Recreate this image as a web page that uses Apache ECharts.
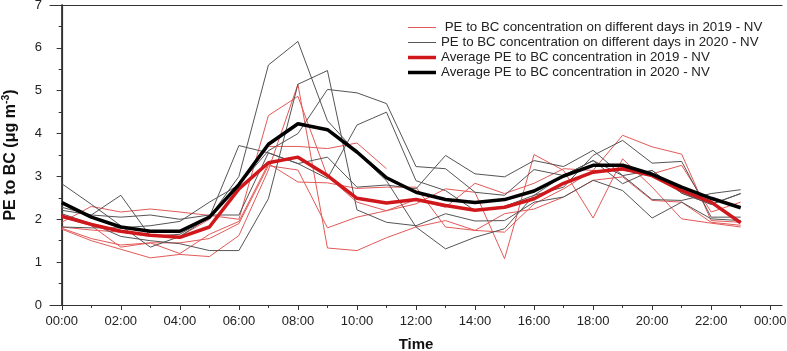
<!DOCTYPE html>
<html>
<head>
<meta charset="utf-8">
<script src="https://cdn.jsdelivr.net/npm/echarts@6/dist/echarts.min.js"></script>
<style>
  html, body { margin: 0; padding: 0; background: #fff; }
  #chart { width: 787px; height: 351px; }
</style>
</head>
<body>
<div id="chart"></div>
<script>
const hours = [0, 1, 2, 3, 4, 5, 6, 7, 8, 9, 10, 11, 12, 13, 14, 15, 16, 17, 18, 19, 20, 21, 22, 23];
const xMajorTicks = [0, 2, 4, 6, 8, 10, 12, 14, 16, 18, 20, 22, 24];
const xMinorTicks = [1, 3, 5, 7, 9, 11, 13, 15, 17, 19, 21, 23];

// daily curves 2019 (thin red)
const days2019 = [
  [1.77, 1.50, 1.30, 1.10, 1.18, 1.13, 1.62, 3.15, 5.15, 1.33, 1.27, 1.57, 1.82, 1.97, 1.74, 1.70, 2.36, 2.71, 3.14, 3.96, 3.69, 3.52, 1.97, 1.93],
  [1.93, 2.30, 2.17, 2.24, 2.17, 2.09, 2.00, 4.42, 4.87, 3.00, 2.40, 2.20, 2.46, 2.28, 2.84, 2.60, 2.84, 3.18, 3.14, 3.14, 3.06, 3.26, 2.17, 2.40],
  [1.82, 1.75, 1.70, 1.60, 1.60, 2.00, 2.80, 3.70, 3.70, 3.65, 3.78, 3.18, null, null, null, null, null, null, null, null, null, null, null, null],
  [1.79, 1.55, 1.40, 1.45, 1.45, 1.55, 1.90, 3.25, 3.15, 1.80, 2.05, 2.20, 2.36, 2.71, 2.63, 1.08, 3.51, 3.14, 2.03, 3.41, 2.75, 2.01, 1.91, 1.82],
  [2.05, 1.85, 1.35, 1.45, 1.20, 1.65, 1.95, 3.30, 2.87, 2.85, 2.72, 2.75, 2.75, 1.82, 1.74, 2.13, 2.24, 2.52, 2.91, 2.99, 2.44, 2.40, 1.93, 1.86]
];

// daily curves 2020 (thin gray)
const days2020 = [
  [2.83, 2.35, 1.85, 1.35, 1.60, 2.05, 3.00, 5.60, 6.15, 4.30, 3.55, 2.90, 1.82, 1.31, 1.58, 1.78, 2.56, 2.75, 3.49, 3.84, 3.31, 3.35, 2.05, 2.05],
  [2.28, 2.10, 2.56, 1.60, 1.65, 2.05, 3.72, 3.55, 3.30, 3.45, 2.75, 2.80, 2.71, 3.49, 3.06, 2.99, 3.37, 3.23, 3.61, 3.02, 2.46, 2.44, 2.60, 2.69],
  [2.13, 1.90, 1.60, 1.50, 1.43, 1.27, 1.27, 2.48, 5.15, 5.47, 2.22, 1.93, 1.85, 2.13, 1.96, 1.97, 2.40, 2.52, 2.91, 2.67, 2.03, 2.40, 2.01, 1.97],
  [1.82, 1.80, 1.80, 1.85, 1.95, 2.40, 2.80, 3.60, 4.00, 5.03, 4.95, 4.70, 3.23, 3.18, 2.63, 2.56, 3.16, 3.02, 3.37, 2.83, 3.14, 2.61, 2.35, 2.60],
  [2.21, 2.10, 2.05, 2.10, 2.00, 2.10, 2.10, 3.55, 3.30, 2.95, 4.20, 4.50, 2.90, 2.67, 2.20, 2.30, 2.56, 3.02, 3.37, 3.02, 3.14, 2.61, 2.35, 2.60]
];

const avg2019 = [2.07, 1.88, 1.72, 1.63, 1.58, 1.82, 2.71, 3.32, 3.45, 3.02, 2.49, 2.38, 2.46, 2.32, 2.21, 2.28, 2.48, 2.84, 3.10, 3.18, 3.02, 2.67, 2.40, 1.92];
const avg2020 = [2.39, 2.05, 1.82, 1.72, 1.72, 2.05, 2.81, 3.75, 4.23, 4.09, 3.57, 2.97, 2.63, 2.46, 2.39, 2.46, 2.66, 3.01, 3.26, 3.26, 3.05, 2.75, 2.49, 2.27];

const names = [
  ' PE to BC concentration on different days in 2019 - NV',
  'PE to BC concentration on different days in 2020 - NV',
  'Average PE to BC concentration in 2019 - NV',
  'Average PE to BC concentration in 2020 - NV'
];

const font = 'Liberation Sans, Arial, sans-serif';
const frame = '#333';
const thinRed = '#e25a58';
const thinGray = '#555';
const avgRed = '#d0181c';

function pairs(vals) {
  return hours.map((h, i) => [h, vals[i]]);
}

const series = [];
days2019.forEach((d) => series.push({
  name: names[0], type: 'line', data: pairs(d), symbol: 'none',
  lineStyle: { color: thinRed, width: 1 }, itemStyle: { color: thinRed }
}));
days2020.forEach((d) => series.push({
  name: names[1], type: 'line', data: pairs(d), symbol: 'none',
  lineStyle: { color: thinGray, width: 1 }, itemStyle: { color: thinGray }
}));
series.push({
  name: names[2], type: 'line', data: pairs(avg2019), symbol: 'none',
  lineStyle: { color: avgRed, width: 3.5 }, itemStyle: { color: avgRed }
});
series.push({
  name: names[3], type: 'line', data: pairs(avg2020), symbol: 'none',
  lineStyle: { color: '#000', width: 3.5 }, itemStyle: { color: '#000' }
});

// plain line segments as legend keys
const thinKey = 'path://M0,0h28v1h-28z';
const thickKey = 'path://M0,0h28v3.5h-28z';

const chart = echarts.init(document.getElementById('chart'));
chart.setOption({
  animation: false,
  backgroundColor: '#fff',
  textStyle: { fontFamily: font },
  grid: { left: 50, right: 5, top: 5, bottom: 46, outerBoundsMode: 'none' },
  legend: {
    data: [
      { name: names[0], icon: thinKey, itemStyle: { color: thinRed } },
      { name: names[1], icon: thinKey, itemStyle: { color: thinGray } },
      { name: names[2], icon: thickKey, itemStyle: { color: avgRed } },
      { name: names[3], icon: thickKey, itemStyle: { color: '#000' } }
    ],
    orient: 'vertical',
    left: 403,
    top: 16,
    itemWidth: 28,
    itemHeight: 14,
    itemGap: 2,
    symbolKeepAspect: true,
    textStyle: { fontFamily: font, fontSize: 13.3, color: '#222' }
  },
  xAxis: [
    {
      type: 'value', min: -0.4, max: 24.4, position: 'bottom',
      name: 'Time', nameLocation: 'middle', nameGap: 32,
      nameTextStyle: { fontFamily: font, fontSize: 15, fontWeight: 'bold', color: '#111' },
      axisLine: { show: true, lineStyle: { color: frame, width: 1.2 } },
      axisTick: { show: true, customValues: xMajorTicks, length: 5, lineStyle: { color: frame } },
      axisLabel: {
        customValues: xMajorTicks, fontSize: 13, color: '#222', margin: 10,
        formatter: (v) => String(v % 24).padStart(2, '0') + ':00'
      },
      splitLine: { show: false }
    },
    {
      type: 'value', min: -0.4, max: 24.4, position: 'bottom',
      axisLine: { show: false },
      axisTick: { show: true, customValues: xMinorTicks, length: 3, lineStyle: { color: frame } },
      axisLabel: { show: false },
      splitLine: { show: false }
    },
    {
      type: 'value', min: -0.4, max: 24.4, position: 'top',
      axisLine: { show: true, lineStyle: { color: frame, width: 1.2 } },
      axisTick: { show: false }, axisLabel: { show: false }, splitLine: { show: false }
    }
  ],
  yAxis: [
    {
      type: 'value', min: 0, max: 7, interval: 1, position: 'left',
      name: '{b|PE to BC (μg m}{s|-3}{b|)}', nameLocation: 'middle', nameGap: 30,
      nameTextStyle: {
        rich: {
          b: { fontFamily: font, fontSize: 16, fontWeight: 'bold', color: '#111' },
          s: { fontFamily: font, fontSize: 10.5, fontWeight: 'bold', color: '#111', verticalAlign: 'top', padding: [0, 0, 8, 0] }
        }
      },
      axisLine: { show: true, lineStyle: { color: '#111', width: 1.5 } },
      axisTick: { show: true, length: 5, lineStyle: { color: frame } },
      minorTick: { show: true, splitNumber: 2, length: 3, lineStyle: { color: frame } },
      axisLabel: { fontSize: 13, color: '#222', margin: 8 },
      splitLine: { show: false }
    },
    {
      type: 'value', min: 0, max: 7, interval: 1, position: 'right',
      axisLine: { show: true, lineStyle: { color: frame, width: 1.2 } },
      axisTick: { show: true, inside: true, length: 5, lineStyle: { color: frame } },
      minorTick: { show: true, splitNumber: 2, length: 3, lineStyle: { color: frame } },
      axisLabel: { show: false },
      splitLine: { show: false }
    }
  ],
  series: series
});
</script>
</body>
</html>
